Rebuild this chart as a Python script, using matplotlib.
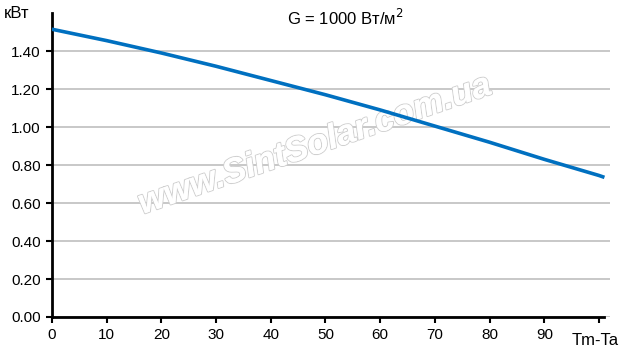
import numpy as np
import matplotlib.pyplot as plt
import matplotlib.patheffects as pe

plt.rcParams['font.family'] = ['Liberation Sans', 'DejaVu Sans']

# data
dt = [0, 10, 20, 30, 40, 50, 60, 70, 80, 90, 100, 101]
power = [1.515, 1.455, 1.39, 1.32, 1.245, 1.17, 1.09, 1.005, 0.92, 0.83, 0.745, 0.735]
yticks = [0.0, 0.2, 0.4, 0.6, 0.8, 1.0, 1.2, 1.4]
xticks = [0, 10, 20, 30, 40, 50, 60, 70, 80, 90, 100]

fig = plt.figure(figsize=(6.4, 3.53), dpi=100)
ax = fig.add_axes([0.081, 0.102, 0.872, 0.861])

ax.plot(dt, power, color='#0070C0', lw=2.6, solid_capstyle='butt', zorder=3)

ax.set_xlim(0, 102)
ax.set_ylim(0, 1.6)
ax.set_yticks(yticks)
ax.set_yticklabels(['%.2f' % v for v in yticks], fontsize=11)
ax.set_xticks(xticks)
ax.set_xticklabels([str(v) for v in xticks[:-1]] + [''], fontsize=11)
ax.grid(axis='y', color='#BFBFBF', lw=1.2)
ax.set_axisbelow(True)
ax.tick_params(direction='out', length=4, width=1.5, colors='black', pad=4)

for s in ['top', 'right']:
    ax.spines[s].set_visible(False)
ax.spines['left'].set_linewidth(2)
ax.spines['bottom'].set_linewidth(2)
ax.spines['bottom'].set_bounds(0, 101)

fig.text(0.006, 0.962, 'кВт', fontsize=12, ha='left', va='center')
fig.text(0.93, 0.035, 'Tm-Ta', fontsize=12, ha='center', va='center')
fig.text(0.54, 0.948, 'G = 1000 Вт/м$^2$', fontsize=12, ha='center', va='center')

# watermark
ax.text(0.492, 0.59, 'www.SintSolar.com.ua', fontsize=25, rotation=19,
        transform=fig.transFigure, ha='center', va='center', color='white',
        style='italic', fontweight='bold', zorder=2,
        path_effects=[pe.withStroke(linewidth=1.5, foreground='#D0D0D0'),
                      pe.Normal()])

fig.savefig('out.png', dpi=100)
